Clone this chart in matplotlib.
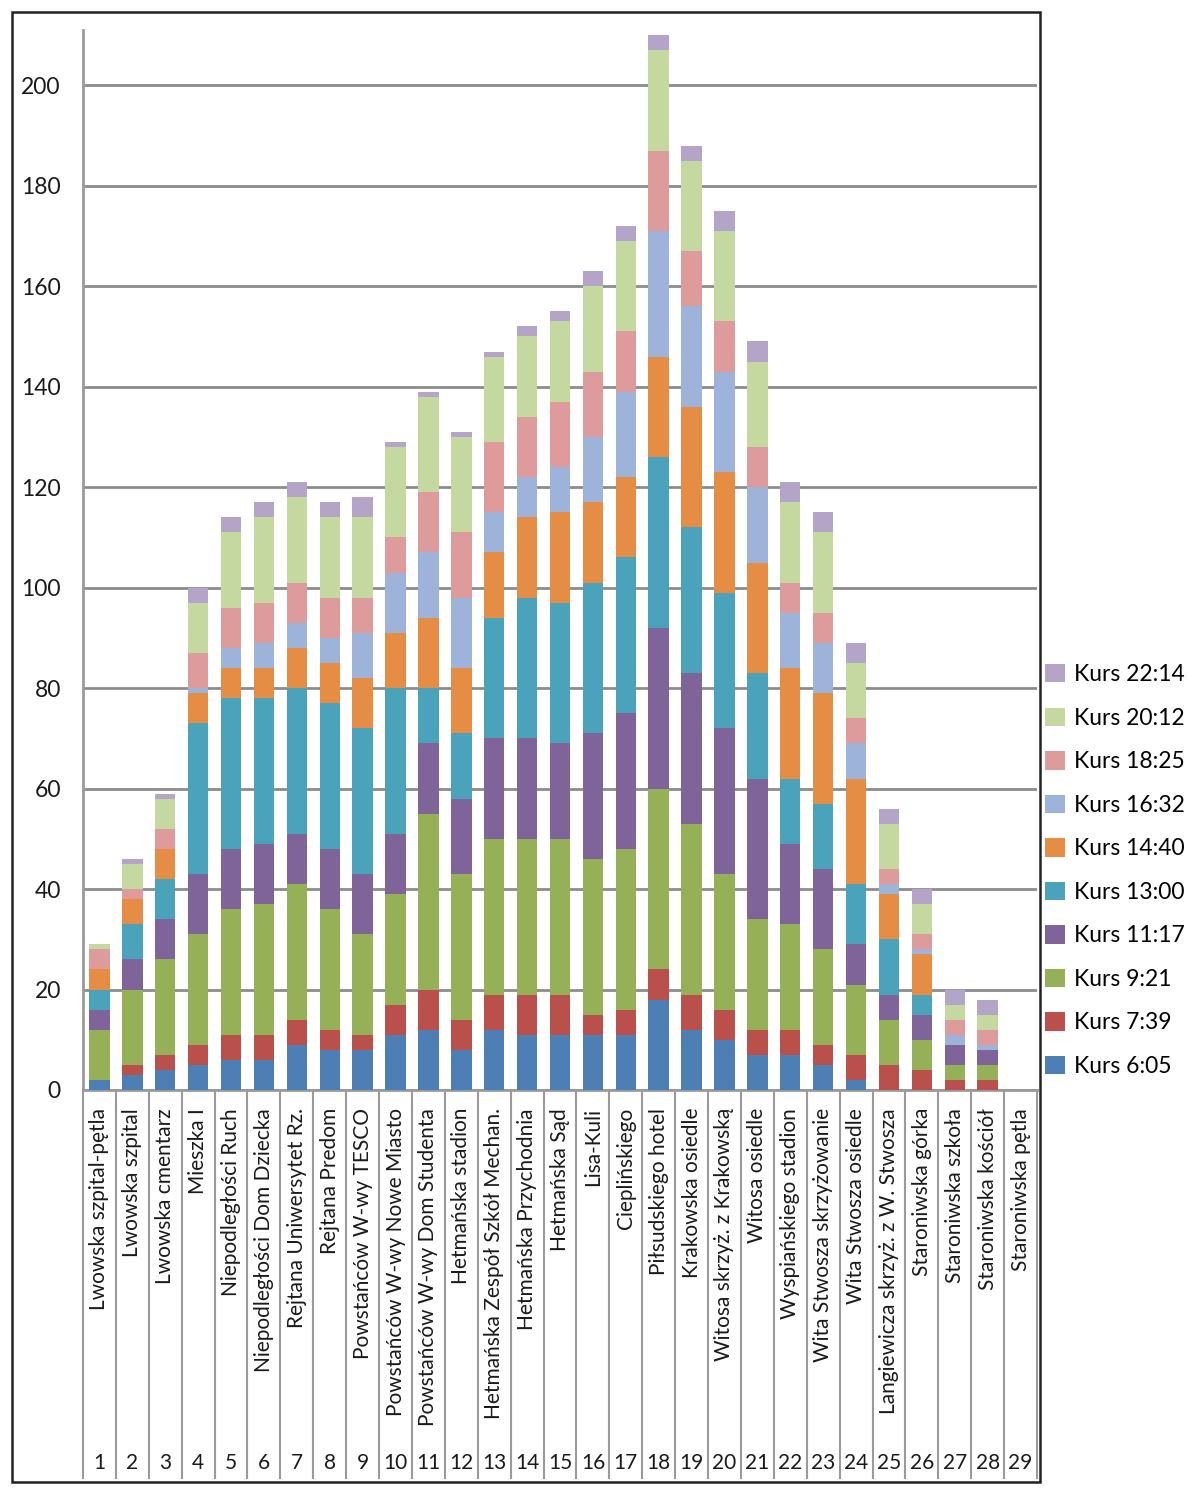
import numpy as np
import matplotlib
matplotlib.use("Agg")
import matplotlib.pyplot as plt
import matplotlib.transforms as mtransforms
from matplotlib.patches import Rectangle

plt.rcParams['font.family'] = ['Lato', 'DejaVu Sans']

stops = ["Lwowska szpital-pętla", "Lwowska szpital", "Lwowska cmentarz", "Mieszka I",
         "Niepodległości Ruch", "Niepodległości Dom Dziecka", "Rejtana Uniwersytet Rz.",
         "Rejtana Predom", "Powstańców W-wy TESCO", "Powstańców W-wy Nowe Miasto",
         "Powstańców W-wy Dom Studenta", "Hetmańska stadion",
         "Hetmańska Zespół Szkół Mechan.", "Hetmańska Przychodnia", "Hetmańska Sąd",
         "Lisa-Kuli", "Cieplińskiego", "Piłsudskiego hotel", "Krakowska osiedle",
         "Witosa skrzyż. z Krakowską", "Witosa osiedle", "Wyspiańskiego stadion",
         "Wita Stwosza skrzyżowanie", "Wita Stwosza osiedle",
         "Langiewicza skrzyż. z W. Stwosza", "Staroniwska górka", "Staroniwska szkoła",
         "Staroniwska kościół", "Staroniwska pętla"]

# passengers per stop for each run
kurs_605 = [2, 3, 4, 5, 6, 6, 9, 8, 8, 11, 12, 8, 12, 11, 11, 11, 11, 18, 12, 10, 7, 7, 5, 2, 0, 0, 0, 0, 0]
kurs_739 = [0, 2, 3, 4, 5, 5, 5, 4, 3, 6, 8, 6, 7, 8, 8, 4, 5, 6, 7, 6, 5, 5, 4, 5, 5, 4, 2, 2, 0]
kurs_921 = [10, 15, 19, 22, 25, 26, 27, 24, 20, 22, 35, 29, 31, 31, 31, 31, 32, 36, 34, 27, 22, 21, 19, 14, 9, 6, 3, 3, 0]
kurs_1117 = [4, 6, 8, 12, 12, 12, 10, 12, 12, 12, 14, 15, 20, 20, 19, 25, 27, 32, 30, 29, 28, 16, 16, 8, 5, 5, 4, 3, 0]
kurs_1300 = [4, 7, 8, 30, 30, 29, 29, 29, 29, 29, 11, 13, 24, 28, 28, 30, 31, 34, 29, 27, 21, 13, 13, 12, 11, 4, 0, 0, 0]
kurs_1440 = [4, 5, 6, 6, 6, 6, 8, 8, 10, 11, 14, 13, 13, 16, 18, 16, 16, 20, 24, 24, 22, 22, 22, 21, 9, 8, 0, 0, 0]
kurs_1632 = [0, 0, 0, 1, 4, 5, 5, 5, 9, 12, 13, 14, 8, 8, 9, 13, 17, 25, 20, 20, 15, 11, 10, 7, 2, 1, 2, 1, 0]
kurs_1825 = [4, 2, 4, 7, 8, 8, 8, 8, 7, 7, 12, 13, 14, 12, 13, 13, 12, 16, 11, 10, 8, 6, 6, 5, 3, 3, 3, 3, 0]
kurs_2012 = [1, 5, 6, 10, 15, 17, 17, 16, 16, 18, 19, 19, 17, 16, 16, 17, 18, 20, 18, 18, 17, 16, 16, 11, 9, 6, 3, 3, 0]
kurs_2214 = [0, 1, 1, 3, 3, 3, 3, 3, 4, 1, 1, 1, 1, 2, 2, 3, 3, 3, 3, 4, 4, 4, 4, 4, 3, 3, 3, 3, 0]

series = [("Kurs 6:05", kurs_605, "#4d7eb4"),
          ("Kurs 7:39", kurs_739, "#ba504b"),
          ("Kurs 9:21", kurs_921, "#95b057"),
          ("Kurs 11:17", kurs_1117, "#7f6499"),
          ("Kurs 13:00", kurs_1300, "#4aa3bb"),
          ("Kurs 14:40", kurs_1440, "#e58d44"),
          ("Kurs 16:32", kurs_1632, "#9eb3da"),
          ("Kurs 18:25", kurs_1825, "#dd9c9b"),
          ("Kurs 20:12", kurs_2012, "#c5d8a0"),
          ("Kurs 22:14", kurs_2214, "#b3a4c8")]

W, H = 1188, 1491
fig = plt.figure(figsize=(W / 100, H / 100), dpi=100)
ax = fig.add_axes([83 / W, 1 - 1090 / H, (1037 - 83) / W, (1090 - 30) / H])

x = np.arange(1, len(stops) + 1)
bottom = np.zeros(len(stops))
handles = []
for name, vals, col in series:
    b = ax.bar(x, vals, 0.62, bottom=bottom, color=col, label=name, zorder=3)
    handles.append(b)
    bottom += np.array(vals)

ax.set_xlim(0.5, len(stops) + 0.5)
ax.set_ylim(0, 211)
ax.set_yticks(range(0, 201, 20))
ax.yaxis.grid(True, color="#8c8c8c", lw=2, zorder=0)
ax.tick_params(axis="y", length=0, pad=16, labelsize=16.5, labelcolor="#1a1a1a")
ax.set_xticks([])
for s in ["top", "right"]:
    ax.spines[s].set_visible(False)
for s in ["left", "bottom"]:
    ax.spines[s].set_color("#9a9a9a")
    ax.spines[s].set_linewidth(2)

# category table under the axis: names, separators and stop numbers
trans = mtransforms.blended_transform_factory(ax.transData, ax.transAxes)
sep_bottom = -(1478 - 1090) / (1090 - 30)
for xb in np.arange(0.5, len(stops) + 1, 1.0):
    ax.plot([xb, xb], [0, sep_bottom], transform=trans, color="#9a9a9a",
            lw=1.5, clip_on=False)
for i, name in enumerate(stops):
    ax.text(x[i], -(1108 - 1090) / 1060, name, transform=trans, rotation=90,
            ha="center", va="top", fontsize=15, color="#1a1a1a")
    ax.text(x[i], -(1463 - 1090) / 1060, str(i + 1), transform=trans,
            ha="center", va="center", fontsize=15, color="#1a1a1a")

fig.legend(handles[::-1], [s[0] for s in series][::-1], loc="upper left",
           bbox_to_anchor=(1036 / W, 1 - 655 / H), frameon=False, fontsize=16.5,
           handlelength=0.85, handleheight=0.85, handletextpad=0.4,
           labelspacing=0.98, borderaxespad=0)

fig.patches.append(Rectangle((12 / W, 1 - 1482 / H), (1040 - 12) / W, (1482 - 12) / H,
                             transform=fig.transFigure, fill=False, ec="#222222", lw=1.8))

fig.savefig("out.png", dpi=100)
